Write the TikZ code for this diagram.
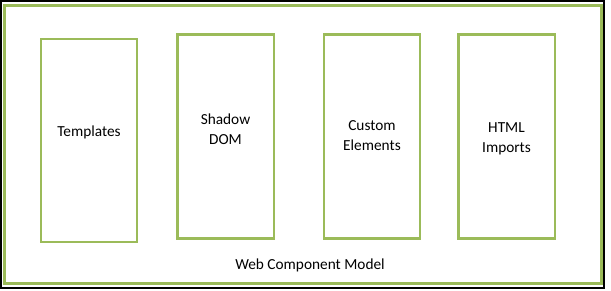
\documentclass[tikz,border=0pt]{standalone}
\usepackage{fontspec}
\setmainfont{Carlito}
\definecolor{olive}{HTML}{9BBB59}
\begin{document}
\begin{tikzpicture}[x=0.75pt,y=-0.75pt,
  frame/.style={draw=olive,line width=2.2pt},
  pillar/.style={frame},
  caption/.style={font=\fontsize{11.5}{15}\selectfont,align=center,inner sep=0pt,text=black}]
\useasboundingbox (0,0) rectangle (611,291);
% outer black border
\draw[black,line width=1.2pt] (0.8,0.8) rectangle (604.2,288);
% model frame
\draw[frame] (4.5,5.5) rectangle (601.2,283.2);
% the four parts
\draw[pillar] (41,39) rectangle (137,242);
\draw[pillar] (177.5,34.5) rectangle (274,238.5);
\draw[pillar] (324,34.5) rectangle (420,238.5);
\draw[pillar] (458.5,34.5) rectangle (555,238.5);
\node[caption] (templates) at (89,132.5) {Templates};
\node[caption] (shadow) at (225.5,129.5) {Shadow\\DOM};
\node[caption] (custom) at (372,136) {Custom\\Elements};
\node[caption] (imports) at (506.5,138.5) {HTML\\Imports};
\node[caption] (model) at (310,265) {Web Component Model};
\end{tikzpicture}
\end{document}
